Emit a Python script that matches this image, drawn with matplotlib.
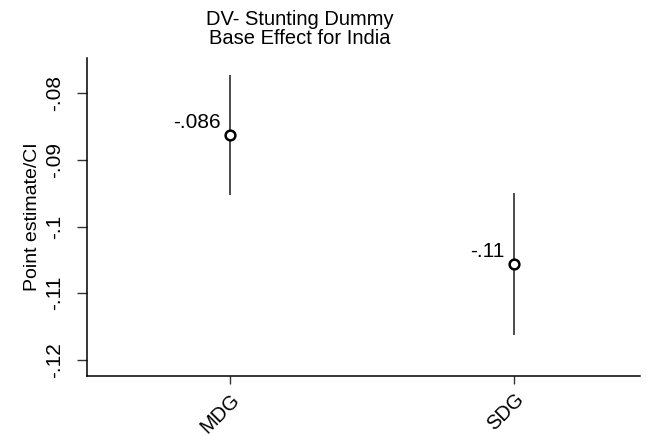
import matplotlib
matplotlib.use('Agg')
import matplotlib.pyplot as plt

plt.rcParams['font.family'] = ['Liberation Sans', 'DejaVu Sans']

# estimates and confidence bounds for each goal period
goals = ['MDG', 'SDG']
estimates = [-0.0863, -0.1056]
ci_low = [-0.0953, -0.1163]
ci_high = [-0.0773, -0.0950]
yticks = [-0.08, -0.09, -0.10, -0.11, -0.12]


def stata_fmt(v, digits=2):
    s = f'{v:.{digits}g}'
    return s.replace('0.', '.')


fig = plt.figure(figsize=(6.46, 4.36), dpi=100)
ax = fig.add_axes([0.1347, 0.1376, 0.8560, 0.7294])

xs = list(range(len(goals)))
ax.vlines(xs, ci_low, ci_high, color='#1a1a1a', lw=1.1)
ax.plot(xs, estimates, 'o', ms=7, mfc='white', mec='black', mew=1.8, zorder=3)
for x, v in zip(xs, estimates):
    ax.annotate(stata_fmt(v), (x, v), xytext=(-7, 2), textcoords='offset points',
                ha='right', va='bottom', fontsize=15)

ax.set_xlim(-0.5035, 1.444)
ax.set_ylim(-0.1224, -0.07475)
ax.set_xticks(xs)
ax.set_xticklabels(goals, rotation=45, ha='right', rotation_mode='anchor', fontsize=14.5)
ax.set_yticks(yticks)
ax.set_yticklabels([stata_fmt(t) for t in yticks], rotation=90, va='center', fontsize=15)
ax.tick_params(axis='x', length=6, width=1, color='#333333', pad=4)
ax.tick_params(axis='y', length=7.5, width=1, color='#333333', pad=9)
ax.set_ylabel('Point estimate/CI', fontsize=14, labelpad=3)

for side in ['top', 'right']:
    ax.spines[side].set_visible(False)
for side in ['left', 'bottom']:
    ax.spines[side].set_linewidth(1.1)

fig.text(0.464, 0.978, 'DV- Stunting Dummy\nBase Effect for India', ha='center', va='top',
         fontsize=14.5, linespacing=1.0)

fig.savefig('out.png', dpi=100, facecolor='white')
